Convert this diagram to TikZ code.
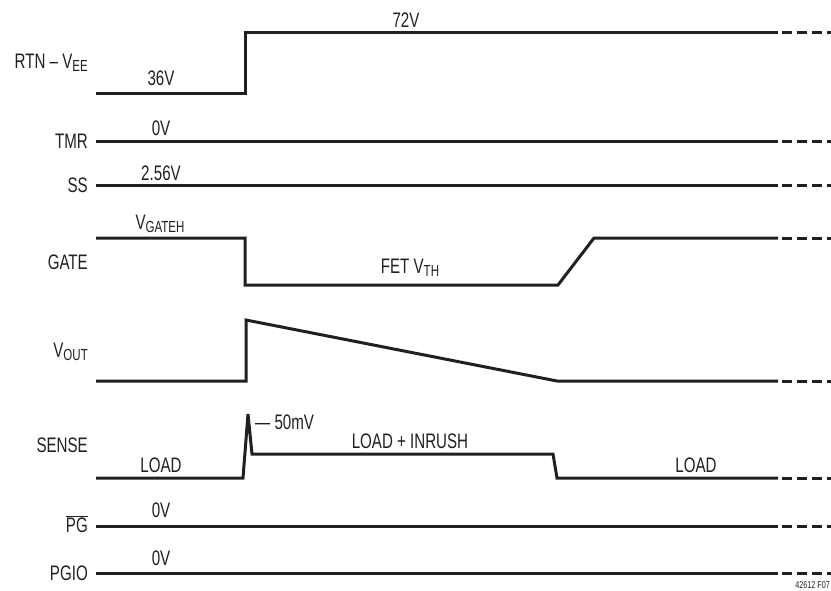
\documentclass[tikz,border=0pt]{standalone}
\usepackage{fontspec}
\setmainfont{Liberation Sans}[FakeStretch=0.72]
\usepackage{tikz}
\usetikzlibrary{positioning}
\definecolor{inkgray}{RGB}{35,31,32}
\newcommand\lowtxt[1]{\raisebox{-3pt}{\fontsize{16}{16}\selectfont #1}}
\newcommand\sigfont{\fontsize{21}{24}\selectfont}
\tikzset{
    % Waveforms
    wline/.style={line width=3pt, draw=inkgray},
    wtail/.style={line width=3pt, draw=inkgray, dash pattern=on 10pt off 5pt},
    % Signal names (left column)
    siglbl/.style={anchor=base east, inner sep=0pt, font=\sigfont, text=inkgray},
    % Levels written on the traces
    vallbl/.style={anchor=base, inner sep=0pt, font=\sigfont, text=inkgray},
}

\begin{document}
\begin{tikzpicture}[x=1pt, y=-1pt]
\useasboundingbox (0,0) rectangle (831,590);

% signal names
\node[siglbl] (rtn)   at (88,68)  {RTN -- V\lowtxt{EE}};
\node[siglbl] (tmr)   at (88,148) {TMR};
\node[siglbl] (ss)    at (88,192) {SS};
\node[siglbl] (gate)  at (88,269) {GATE};
\node[siglbl] (vout)  at (88,357) {V\lowtxt{OUT}};
\node[siglbl] (sense) at (88,452) {SENSE};
\node[siglbl] (pg)    at (88,532) {$\overline{\mbox{PG}}$};
\node[siglbl] (pgio)  at (88,580) {PGIO};

% traces
\draw[wline] (96,93) -- (245,93) -- (245,32) -- (778,32);
\draw[wline] (96,141) -- (778,141);
\draw[wline] (96,185) -- (778,185);
\draw[wline] (96,238) -- (245,238) -- (245,285) -- (558,285) -- (594,238) -- (778,238);
\draw[wline] (96,381) -- (246,381) -- (246,320) -- (557,381) -- (778,381);
\draw[wline] (96,478) -- (243,478) -- (248,414) -- (252,454) -- (553,454) -- (557,478) -- (778,478);
\draw[wline] (96,526) -- (778,526);
\draw[wline] (96,573) -- (778,573);

\foreach \y in {32,141,185,238,381,478,526,573}
    \draw[wtail] (782,\y) -- (831,\y);

% levels
\node[vallbl] (v36)    at (161,85.5)  {36V};
\node[vallbl] (v72)    at (406,27)    {72V};
\node[vallbl] (tmr0)   at (161,135.5) {0V};
\node[vallbl] (ss256)  at (161,180.5) {2.56V};
\node[vallbl] (vgateh) at (160,229)   {V\lowtxt{GATEH}};
\node[vallbl] (vth)    at (410,273)   {FET V\lowtxt{TH}};
\node[vallbl, anchor=base west] (mv50) at (255,429.5) {— 50mV};
\node[vallbl] (inrush) at (410,448)   {LOAD + INRUSH};
\node[vallbl] (load1)  at (161,472)   {LOAD};
\node[vallbl] (load2)  at (696,472.5) {LOAD};
\node[vallbl] (pg0)    at (161,517.5) {0V};
\node[vallbl] (pgio0)  at (161,565.5) {0V};

\node[anchor=south east, inner sep=1pt, font=\fontsize{10}{10}\selectfont, text=inkgray] (fig) at (831,590) {42612 F07};
\end{tikzpicture}
\end{document}
